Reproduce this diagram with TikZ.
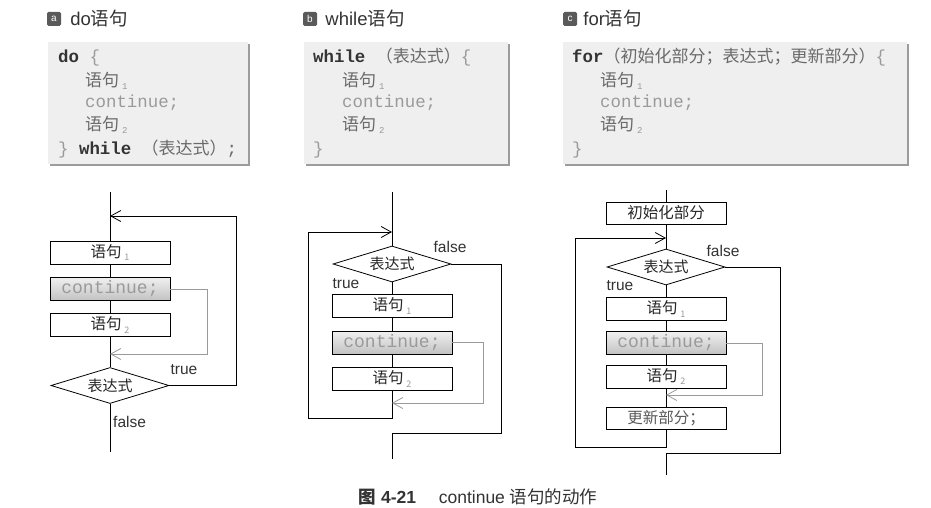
\documentclass[tikz,border=0pt]{standalone}
\usepackage{fontspec}
\usepackage{xcolor}
\usepackage{tikz}
\usetikzlibrary{positioning,shapes.geometric,arrows.meta,shadows}
\setmainfont{Liberation Sans}
\newfontfamily\cjk{Noto Sans CJK SC}
\newfontfamily\codefont{Liberation Mono}
\definecolor{InkGray}{HTML}{333333}
\definecolor{CodeGray}{HTML}{6A6A6A}
\definecolor{SkipGray}{HTML}{9A9A9A}
\definecolor{PaneFill}{HTML}{EFEFEF}
\definecolor{PaneShadow}{HTML}{9C9C9C}
\definecolor{TagFill}{HTML}{5A5A5A}
\newcommand{\zh}[1]{{\cjk\fontsize{17}{19}\selectfont #1}}
\newcommand{\kw}[1]{{\bfseries\color{InkGray}#1}}
\newcommand{\idx}[1]{\,{\fontsize{9}{9}\selectfont\color{SkipGray}\raisebox{-3.5pt}{#1}}}
\tikzset{
  flowline/.style={draw=black,line width=0.8pt},
  skipline/.style={draw=SkipGray,line width=0.8pt},
  stmtnode/.style={
    draw=black,fill=white,line width=0.8pt,
    minimum width=120pt,minimum height=23pt,inner sep=0pt,
    font=\fontsize{15.5}{17}\selectfont\cjk\color{black!85}
  },
  contnode/.style={
    stmtnode,top color=black!6,bottom color=black!24,
    font=\fontsize{18}{19}\selectfont\codefont\color{SkipGray}
  },
  testnode/.style={
    diamond,aspect=3.3,draw=black,fill=white,line width=0.8pt,
    minimum width=118pt,minimum height=36pt,inner sep=0pt,
    font=\fontsize{15}{17}\selectfont\cjk\color{black!85}
  },
  flowlabel/.style={font=\fontsize{15.5}{17}\selectfont,text=InkGray,inner sep=0pt},
  panenode/.style={
    fill=PaneFill,minimum height=122pt,inner sep=0pt,
    drop shadow={shadow xshift=2pt,shadow yshift=-2pt,fill=PaneShadow,opacity=1}
  },
  codeline/.style={anchor=base west,inner sep=0pt,font=\fontsize{17.4}{19}\selectfont\codefont\color{CodeGray}},
  tagnode/.style={
    fill=TagFill,rounded corners=1.5pt,minimum size=14pt,inner sep=0pt,
    text=white,font=\fontsize{10}{10}\selectfont
  },
  headnode/.style={inner sep=0pt,font=\fontsize{18.5}{20}\selectfont,text=InkGray},
}

\begin{document}
\begin{tikzpicture}[x=1pt,y=-1pt,>={Straight Barb[length=10pt,width=11pt]}]
  \useasboundingbox[fill=white] (0,0) rectangle (931,508);
  \node[tagnode] (taga) at (54,19) {a};
  \node[headnode,right=9pt of taga] (heada) {do{\cjk 语句}};
  \node[tagnode] (tagb) at (310,19) {b};
  \node[headnode,right=8pt of tagb] (headb) {while{\cjk 语句}};
  \node[tagnode] (tagc) at (570,19) {c};
  \node[headnode,right=6pt of tagc] (headc) {for{\cjk 语句}};
  \node[panenode,minimum width=200pt] (panea) at (148,103) {};
  \node[panenode,minimum width=204pt] (paneb) at (406,103) {};
  \node[panenode,minimum width=344pt] (panec) at (735,103) {};
  \node[codeline] (ca1) at (58,63) {\kw{do} {\color{SkipGray}\{}};
  \node[codeline] (ca2) at (85,86.5) {\zh{语句}\idx{1}};
  \node[codeline,text=SkipGray] (ca3) at (85,107.5) {continue;};
  \node[codeline] (ca4) at (85,130.5) {\zh{语句}\idx{2}};
  \node[codeline] (ca5) at (58,154) {{\color{SkipGray}\}} \kw{while} \zh{（表达式）};};
  \node[codeline] (cb1) at (313,63) {\kw{while} \zh{（表达式）}{\color{SkipGray}\{}};
  \node[codeline] (cb2) at (342,86.5) {\zh{语句}\idx{1}};
  \node[codeline,text=SkipGray] (cb3) at (342,107.5) {continue;};
  \node[codeline] (cb4) at (342,130.5) {\zh{语句}\idx{2}};
  \node[codeline] (cb5) at (313,154) {{\color{SkipGray}\}}};
  \node[codeline] (cc1) at (572,63) {\kw{for}\zh{（初始化部分；表达式；更新部分）}{\color{SkipGray}\{}};
  \node[codeline] (cc2) at (600,86.5) {\zh{语句}\idx{1}};
  \node[codeline,text=SkipGray] (cc3) at (600,107.5) {continue;};
  \node[codeline] (cc4) at (600,130.5) {\zh{语句}\idx{2}};
  \node[codeline] (cc5) at (572,154) {{\color{SkipGray}\}}};
  \coordinate (a0) at (110,192);
  \coordinate (ajoin) at (110,216);
  \node[stmtnode] (a1) at (110,252.5) {语句\idx{1}};
  \node[contnode] (a2) at (110,289) {continue;};
  \node[stmtnode] (a3) at (110,325) {语句\idx{2}};
  \coordinate (acont) at (110,354);
  \node[testnode] (at) at (110,385.5) {表达式};
  \coordinate (aend) at (110,452);
  \draw[flowline] (a0) -- (a1) -- (a2) -- (a3) -- (at) -- (aend);
  \draw[flowline,->] (at.east) -- ++(67,0) |- (ajoin);
  \draw[skipline,->] (a2.east) -- ++(37,0) |- (acont);
  \node[flowlabel] (atrue) at (184,370) {true};
  \node[flowlabel,anchor=west] (afalse) at (113,422) {false};
  \coordinate (b0) at (392,192);
  \coordinate (bjoin) at (392,232);
  \node[testnode] (bt) at (392,264) {表达式};
  \node[stmtnode] (b1) at (392,306) {语句\idx{1}};
  \node[contnode] (b2) at (392,342.5) {continue;};
  \node[stmtnode] (b3) at (392,379) {语句\idx{2}};
  \coordinate (bcont) at (392,403);
  \coordinate (bback) at (392,418);
  \coordinate (bexit) at (392,433);
  \coordinate (bend) at (392,459);
  \draw[flowline] (b0) -- (bt) -- (b1) -- (b2) -- (b3);
  \draw[flowline,->] (b3) -- (bback) -- ++(-84,0) |- (bjoin);
  \draw[flowline] (bt.east) -- ++(50,0) |- (bexit) -- (bend);
  \draw[skipline,->] (b2.east) -- ++(31,0) |- (bcont);
  \node[flowlabel] (bfalse) at (450,247) {false};
  \node[flowlabel] (btrue) at (346,284) {true};
  \coordinate (c0) at (666,190);
  \node[stmtnode,minimum height=22pt] (c1) at (666,213) {初始化部分};
  \coordinate (cjoin) at (666,238);
  \node[testnode] (ct) at (666,267) {表达式};
  \node[stmtnode] (c2) at (666,309) {语句\idx{1}};
  \node[contnode] (c3) at (666,343) {continue;};
  \node[stmtnode] (c4) at (666,376.5) {语句\idx{2}};
  \coordinate (ccont) at (666,395);
  \node[stmtnode,minimum height=22pt,text=black!65] (c5) at (666,418) {更新部分；};
  \coordinate (cback) at (666,447);
  \coordinate (cexit) at (666,453);
  \coordinate (cend) at (666,475);
  \draw[flowline] (c0) -- (c1) -- (ct) -- (c2) -- (c3) -- (c4) -- (c5);
  \draw[flowline,->] (c5) -- (cback) -- ++(-91,0) |- (cjoin);
  \draw[flowline] (ct.east) -- ++(55,0) |- (cexit) -- (cend);
  \draw[skipline,->] (c3.east) -- ++(36,0) |- (ccont);
  \node[flowlabel] (cfalse) at (723,251) {false};
  \node[flowlabel] (ctrue) at (620,286) {true};
  \node[font=\fontsize{17.5}{19}\selectfont,text=InkGray] (caption) at (478,497) {{\cjk\bfseries 图} \textbf{4-21}\hspace{1.3em}continue {\cjk 语句的动作}};
\end{tikzpicture}
\end{document}
